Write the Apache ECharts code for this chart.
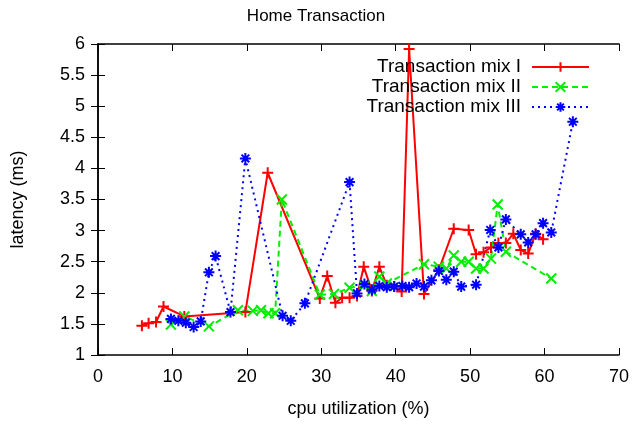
<!DOCTYPE html>
<html>
<head>
<meta charset="utf-8">
<script src="https://cdn.jsdelivr.net/npm/echarts@6/dist/echarts.min.js"></script>
<style>html,body{margin:0;padding:0;background:#fff}#c{width:632px;height:426px}</style>
</head>
<body>
<div id="c"></div>
<script>
// Data
const titleText = "Home Transaction";
const seriesNames = ["Transaction mix I", "Transaction mix II", "Transaction mix III"];
const xTicks = [0, 10, 20, 30, 40, 50, 60, 70];
const yTicks = [1, 1.5, 2, 2.5, 3, 3.5, 4, 4.5, 5, 5.5, 6];

const mix1X = [5.9, 6.8, 7.8, 8.8, 11.6, 19.8, 22.8, 29.8, 30.8, 31.9, 32.8, 33.8, 34.8, 35.7, 36.8, 37.8, 38.8, 39.8, 40.8, 41.8, 43.8, 45.8, 47.8, 49.8, 50.8, 51.8, 52.8, 53.8, 54.8, 55.8, 56.8, 57.8, 58.8, 59.8];
const mix1Y = [1.47, 1.51, 1.53, 1.78, 1.62, 1.69, 3.93, 1.91, 2.27, 1.84, 1.92, 1.92, 1.95, 2.42, 2.03, 2.42, 2.12, 2.1, 2.02, 5.92, 1.98, 2.37, 3.03, 3.01, 2.62, 2.65, 2.73, 2.8, 2.8, 2.95, 2.69, 2.63, 2.95, 2.86];

const mix2X = [9.8, 11.6, 14.9, 18.8, 20.8, 21.9, 22.9, 23.8, 24.7, 29.8, 31.7, 33.8, 35.8, 36.8, 37.8, 38.8, 43.8, 45.8, 46.8, 47.8, 48.8, 49.8, 50.8, 51.8, 52.8, 53.7, 54.8, 60.9];
const mix2Y = [1.49, 1.62, 1.46, 1.72, 1.71, 1.72, 1.67, 1.67, 3.5, 1.97, 1.98, 2.08, 2.12, 2.03, 2.26, 2.15, 2.46, 2.42, 2.39, 2.6, 2.5, 2.5, 2.39, 2.39, 2.55, 3.42, 2.66, 2.23];

const mix3X = [9.8, 10.8, 11.8, 12.85, 13.8, 14.9, 15.8, 17.8, 19.8, 24.8, 25.9, 27.8, 33.8, 34.8, 35.8, 36.8, 37.8, 38.8, 39.8, 40.9, 41.8, 42.8, 43.8, 44.8, 45.8, 46.8, 47.8, 48.8, 50.8, 52.7, 53.8, 54.8, 56.8, 57.8, 58.8, 59.8, 60.9, 63.8];
const mix3Y = [1.58, 1.55, 1.52, 1.45, 1.54, 2.33, 2.59, 1.69, 4.16, 1.63, 1.55, 1.83, 3.78, 1.99, 2.14, 2.05, 2.11, 2.09, 2.1, 2.11, 2.09, 2.15, 2.1, 2.2, 2.35, 2.21, 2.34, 2.1, 2.13, 3.01, 2.73, 3.18, 2.94, 2.81, 2.94, 3.12, 2.97, 4.75];

function pairs(xs, ys) { return xs.map((x, i) => [x, ys[i]]); }

const plusPath = 'path://M0,5L10,5M5,0L5,10';
const crossPath = 'path://M0,0L10,10M0,10L10,0';
const starPath = 'path://M0,5L10,5M5,0L5,10M1.5,1.5L8.5,8.5M1.5,8.5L8.5,1.5';

const font = 'Liberation Sans, Arial, sans-serif';

const chart = echarts.init(document.getElementById('c'), null, { renderer: 'canvas' });

function mkSeries(name, data, color, type, symbol, size) {
  return {
    name: name,
    type: 'line',
    data: data,
    xAxisIndex: 0,
    yAxisIndex: 0,
    symbol: symbol,
    symbolSize: size,
    showAllSymbol: true,
    animation: false,
    lineStyle: { color: color, width: 2, type: type },
    itemStyle: { color: color, borderColor: color, borderWidth: 2 },
    emphasis: { disabled: true }
  };
}

const axisCommon = {
  axisLine: { show: true, lineStyle: { color: '#000', width: 1.5 } },
  axisTick: { show: true, inside: true, length: 7, lineStyle: { color: '#000', width: 1 } },
  splitLine: { show: false }
};

chart.setOption({
  backgroundColor: '#fff',
  animation: false,
  title: {
    text: titleText,
    left: 'center',
    top: 3,
    textStyle: { fontFamily: font, fontSize: 17, fontWeight: 'normal', color: '#000' }
  },
  legend: {
    orient: 'vertical',
    right: 37,
    top: 52,
    align: 'right',
    itemGap: 0,
    itemWidth: 57,
    itemHeight: 12,
    textStyle: { fontFamily: font, fontSize: 19, lineHeight: 20, color: '#000', padding: [0, 6, 0, 0] },
    data: seriesNames
  },
  grid: { left: 98, right: 11, top: 44, bottom: 71, containLabel: false },
  xAxis: [
    Object.assign({}, axisCommon, {
      type: 'value', min: xTicks[0], max: xTicks[xTicks.length - 1], interval: 10,
      position: 'bottom',
      name: 'cpu utilization (%)', nameLocation: 'middle', nameGap: 45,
      nameTextStyle: { fontFamily: font, fontSize: 18, color: '#000' },
      axisLabel: { fontFamily: font, fontSize: 18, color: '#000', margin: 13 }
    }),
    Object.assign({}, axisCommon, {
      type: 'value', min: xTicks[0], max: xTicks[xTicks.length - 1], interval: 10,
      position: 'top', axisLabel: { show: false }
    })
  ],
  yAxis: [
    Object.assign({}, axisCommon, {
      type: 'value', min: yTicks[0], max: yTicks[yTicks.length - 1], interval: 0.5,
      position: 'left',
      name: 'latency (ms)', nameLocation: 'middle', nameGap: 71, nameRotate: 90,
      nameTextStyle: { fontFamily: font, fontSize: 18, color: '#000' },
      axisLabel: { fontFamily: font, fontSize: 18, color: '#000', margin: 13 }
    }),
    Object.assign({}, axisCommon, {
      type: 'value', min: yTicks[0], max: yTicks[yTicks.length - 1], interval: 0.5,
      position: 'right', axisLabel: { show: false }
    })
  ],
  series: [
    mkSeries(seriesNames[0], pairs(mix1X, mix1Y), '#ff0000', 'solid', plusPath, 11),
    mkSeries(seriesNames[1], pairs(mix2X, mix2Y), '#00ee00', [6, 4], crossPath, 10),
    mkSeries(seriesNames[2], pairs(mix3X, mix3Y), '#0000ff', [2, 4], starPath, 11)
  ]
});
</script>
</body>
</html>
